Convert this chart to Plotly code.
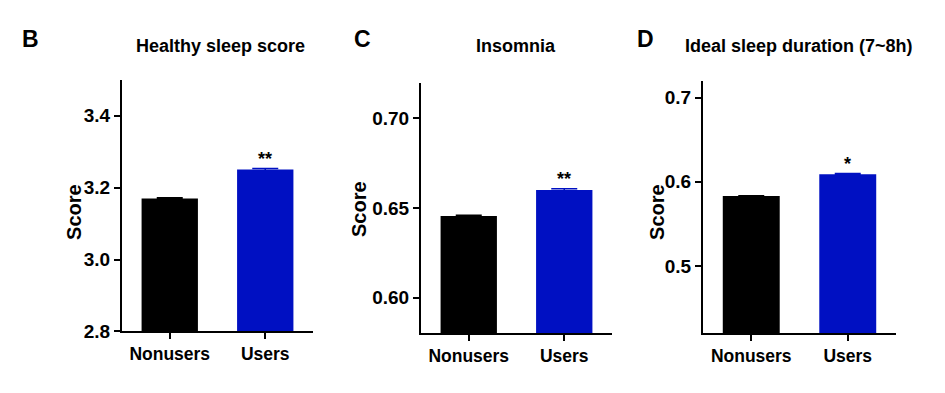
import plotly.graph_objects as go

categories = ["Nonusers", "Users"]
healthy_sleep = [3.170, 3.250]
healthy_err = [0.002, 0.003]
insomnia = [0.6455, 0.6600]
insomnia_err = [0.0005, 0.0007]
ideal_duration = [0.583, 0.609]
ideal_err = [0.0005, 0.0008]

panel_letters = ["B", "C", "D"]
panel_titles = ["Healthy sleep score", "Insomnia", "Ideal sleep duration (7~8h)"]
signif = ["**", "**", "*"]
y_ranges = [[2.8, 3.5], [0.58, 0.72], [0.42, 0.72]]
y_ticks = [[2.8, 3.0, 3.2, 3.4], [0.60, 0.65, 0.70], [0.5, 0.6, 0.7]]
y_fmt = [".1f", ".2f", ".1f"]
bar_colors = ["#000000", "#0010C2"]

W, H = 945, 393
FONT = "Liberation Sans, Arial, sans-serif"
x_px = [(122, 313), (421, 612), (703, 896)]
y_px = [(82, 341), (85, 343), (83, 343)]

values = [healthy_sleep, insomnia, ideal_duration]
errors = [healthy_err, insomnia_err, ideal_err]

fig = go.Figure()
layout = dict(
    width=W, height=H,
    margin=dict(l=0, r=0, t=0, b=0),
    plot_bgcolor="white", paper_bgcolor="white",
    showlegend=False, barmode="overlay",
    font=dict(family=FONT, color="black"),
)
annotations = []
for i in range(3):
    xa = "x" if i == 0 else f"x{i+1}"
    ya = "y" if i == 0 else f"y{i+1}"
    for j in range(2):
        fig.add_trace(go.Bar(
            x=[categories[j]], y=[values[i][j]],
            marker=dict(color=bar_colors[j], line=dict(width=0)),
            error_y=dict(type="data", array=[errors[i][j]], color=bar_colors[j],
                         thickness=1.5, width=13),
            xaxis=xa, yaxis=ya, width=0.59,
        ))
    x0, x1 = x_px[i]
    yt, yb = y_px[i]
    layout["xaxis" if i == 0 else f"xaxis{i+1}"] = dict(
        domain=[x0 / W, x1 / W], anchor=ya, range=[-0.5, 1.5],
        categoryorder="array", categoryarray=categories,
        showline=True, linecolor="black", linewidth=2,
        ticks="outside", ticklen=6, tickwidth=2, tickcolor="black",
        tickfont=dict(size=17.5, weight="bold", family=FONT, color="black"),
        showgrid=False, zeroline=False, fixedrange=True,
    )
    layout["yaxis" if i == 0 else f"yaxis{i+1}"] = dict(
        domain=[(H - yb) / H, (H - yt) / H], anchor=xa, range=y_ranges[i],
        tickvals=y_ticks[i], tickformat=y_fmt[i],
        showline=True, linecolor="black", linewidth=2,
        ticks="outside", ticklen=6, tickwidth=2, tickcolor="black",
        tickfont=dict(size=19, weight="bold", family=FONT, color="black"),
        showgrid=False, zeroline=False, fixedrange=True,
    )
    annotations.append(dict(
        text="Score", textangle=-90, xref="paper", yref="paper",
        x=[74, 359, 657][i] / W, y=(H - [218, 215, 218][i]) / H,
        showarrow=False, xanchor="center", yanchor="middle",
        font=dict(size=20, weight="bold", family=FONT, color="black"),
    ))
    annotations.append(dict(
        text=panel_letters[i], xref="paper", yref="paper",
        x=[31, 362, 645][i] / W, y=(H - 40) / H,
        showarrow=False, xanchor="center", yanchor="middle",
        font=dict(size=23, weight="bold", family=FONT, color="black"),
    ))
    annotations.append(dict(
        text=panel_titles[i], xref="paper", yref="paper",
        x=[220, 516, 799][i] / W, y=(H - 47) / H,
        showarrow=False, xanchor="center", yanchor="middle",
        font=dict(size=18, weight="bold", family=FONT, color="black"),
    ))
    annotations.append(dict(
        text=signif[i], xref=xa, yref=ya,
        x=categories[1], y=values[i][1] + errors[i][1],
        showarrow=False, xanchor="center", yanchor="bottom", yshift=-2,
        font=dict(size=18, weight="bold", family=FONT, color="black"),
    ))
layout["annotations"] = annotations
fig.update_layout(**layout)

css_fix = (
    "var s=document.createElement('style');"
    "s.textContent='html,body{margin:0;padding:0;overflow:hidden;}';"
    "document.head.appendChild(s);"
)
fig.write_html("out.html", config={"displayModeBar": False}, post_script=css_fix)
